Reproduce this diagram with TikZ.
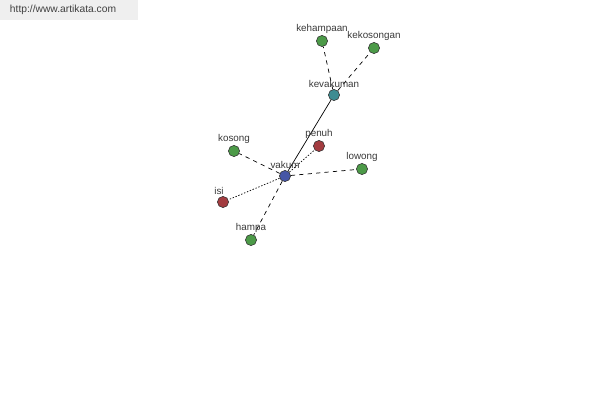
\documentclass[tikz,border=0pt]{standalone}
\usepackage{fontspec}
\setmainfont{Liberation Sans}
\usepackage{xcolor}
\usetikzlibrary{positioning}

\definecolor{wordgreen}{HTML}{4C9A48}
\definecolor{wordblue}{HTML}{4656A6}
\definecolor{wordteal}{HTML}{3E8C92}
\definecolor{wordred}{HTML}{A33C40}
\definecolor{labelgray}{HTML}{3A3A3A}
\definecolor{headbg}{HTML}{EFEFEF}

\begin{document}
\begin{tikzpicture}[
        x=0.025cm,
        y=-0.025cm,
        every node/.style={
            font=\fontsize{7}{8}\selectfont,
            text=labelgray
        },
        word/.style={
            circle,
            draw=black!80,
            line width=0.4pt,
            minimum size=0.28cm,
            inner sep=0pt
        },
        wordlabel/.style={
            above=0pt,
            inner sep=1pt
        },
        strong/.style={
            line width=0.5pt
        },
        related/.style={
            line width=0.5pt,
            dash pattern=on 3pt off 3pt
        },
        opposite/.style={
            line width=0.5pt,
            dash pattern=on 1pt off 1.2pt
        }
    ]

    % Bingkai gambar

    \useasboundingbox (0,0) rectangle (600,400);
    \fill[white] (0,0) rectangle (600,400);
    \fill[headbg] (0,0) rectangle (138,20);
    \node[anchor=west, font=\fontsize{7.3}{8}\selectfont, text=black!75]
        (site) at (5,10) {http://www.artikata.com};

    % Simpul kata

    \node[word, fill=wordblue] (vakum) at (285,176) {};
    \node[word, fill=wordteal] (kevakuman) at (334,95) {};
    \node[word, fill=wordgreen] (kehampaan) at (322,41) {};
    \node[word, fill=wordgreen] (kekosongan) at (374,48) {};
    \node[word, fill=wordgreen] (kosong) at (234,151) {};
    \node[word, fill=wordred] (penuh) at (319,146) {};
    \node[word, fill=wordgreen] (lowong) at (362,169) {};
    \node[word, fill=wordred] (isi) at (223,202) {};
    \node[word, fill=wordgreen] (hampa) at (251,240) {};

    % Hubungan

    \draw[strong] (vakum) -- (kevakuman);
    \draw[related] (kevakuman) -- (kehampaan);
    \draw[related] (kevakuman) -- (kekosongan);
    \draw[related] (vakum) -- (kosong);
    \draw[related] (vakum) -- (lowong);
    \draw[related] (vakum) -- (hampa);
    \draw[opposite] (vakum) -- (penuh);
    \draw[opposite] (vakum) -- (isi);

    % Label kata

    \node[wordlabel] (vakumlbl) at (vakum.north) {vakum};
    \node[wordlabel] (kevakumanlbl) at (kevakuman.north) {kevakuman};
    \node[wordlabel] (kehampaanlbl) at (kehampaan.north) {kehampaan};
    \node[wordlabel] (kekosonganlbl) at (kekosongan.north) {kekosongan};
    \node[wordlabel] (kosonglbl) at (kosong.north) {kosong};
    \node[wordlabel] (penuhlbl) at (penuh.north) {penuh};
    \node[wordlabel] (lowonglbl) at (lowong.north) {lowong};
    \node[wordlabel, xshift=-0.1cm] (isilbl) at (isi.north) {isi};
    \node[wordlabel] (hampalbl) at (hampa.north) {hampa};

\end{tikzpicture}
\end{document}
